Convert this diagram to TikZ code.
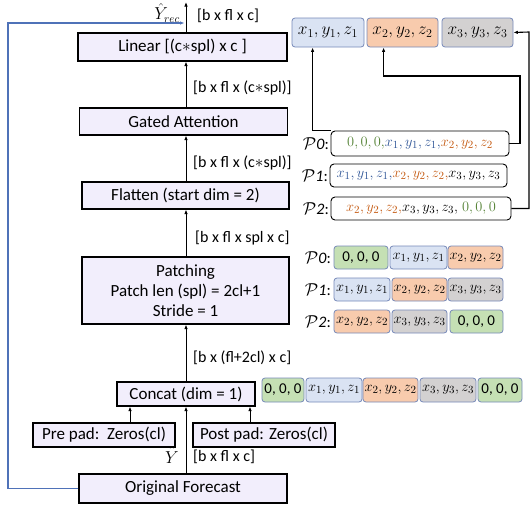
\documentclass[tikz,border=0pt]{standalone}
\usepackage[no-math]{fontspec}
\setmainfont{Carlito}
\usetikzlibrary{arrows.meta,calc}
\definecolor{boxfill}{HTML}{F2EEFC}
\definecolor{gfill}{HTML}{C5E0B4}
\definecolor{bfill}{HTML}{DAE3F3}
\definecolor{ofill}{HTML}{F8CBAD}
\definecolor{rfill}{HTML}{D3D1D1}
\definecolor{seqline}{HTML}{7689B8}
\definecolor{gtxt}{HTML}{548235}
\definecolor{btxt}{HTML}{2F5597}
\definecolor{otxt}{HTML}{C55A11}
\definecolor{fbline}{HTML}{4F72B8}
\begin{document}
\begin{tikzpicture}[x=1pt,y=-1pt,
  font=\fontsize{17}{20}\selectfont,
  opbox/.style={draw=black,line width=1.1pt,fill=boxfill,inner sep=0pt,align=center},
  seq/.style={draw=seqline,line width=0.8pt,rounded corners=3pt,inner sep=0pt,minimum height=23pt,font=\fontsize{15}{17}\selectfont},
  pbox/.style={draw=black,line width=0.9pt,rounded corners=4pt,fill=white,inner sep=0pt,font=\fontsize{15.5}{17}\selectfont},
  plab/.style={anchor=east,inner sep=0pt,font=\fontsize{16}{18}\selectfont},
  dimlab/.style={anchor=west,inner sep=0pt,font=\fontsize{16}{18}\selectfont},
  hatlab/.style={anchor=east,inner sep=0pt,font=\fontsize{16}{18}\selectfont},
  arr/.style={-{Latex[length=4.5pt,width=3.5pt]},line width=0.9pt},
  tarr/.style={-{Latex[length=4.5pt,width=3.5pt]},line width=1.1pt}]
\useasboundingbox (0,0) rectangle (530,506);

% main column
\node[opbox,minimum width=209pt,minimum height=28pt] (lin) at (182.5,47) {Linear [(c$*$spl) x c ]};
\node[opbox,minimum width=208pt,minimum height=27pt] (gat) at (183.5,121.5) {Gated Attention};
\node[opbox,minimum width=207pt,minimum height=27pt] (flat) at (185.5,195.5) {Flatten (start dim = 2)};
\node[opbox,minimum width=207pt,minimum height=67pt] (patch) at (185.5,290.5) {Patching\\[0pt]Patch len (spl) = 2cl+1\\[0pt]Stride = 1};
\node[opbox,minimum width=138pt,minimum height=24pt] (concat) at (186,394) {Concat (dim = 1)};
\node[opbox,minimum width=142pt,minimum height=24pt] (pre) at (104,435) {Pre pad:\ \ Zeros(cl)};
\node[opbox,minimum width=142pt,minimum height=24pt] (post) at (264,435) {Post pad: Zeros(cl)};
\node[opbox,minimum width=208pt,minimum height=29pt] (orig) at (183,488.5) {Original Forecast};

\coordinate (ax) at (186,0);
\coordinate (topend) at (186,2);
\draw[arr] (orig.north -| ax) -- (concat.south -| ax);
\draw[arr] (pre.north -| 130,0) -- (concat.south -| 130,0);
\draw[arr] (post.north -| 250,0) -- (concat.south -| 250,0);
\draw[arr] (concat.north -| ax) -- (patch.south -| ax);
\draw[arr] (patch.north -| ax) -- (flat.south -| ax);
\draw[arr] (flat.north -| ax) -- (gat.south -| ax);
\draw[arr] (gat.north -| ax) -- (lin.south -| ax);
\draw[arr] (lin.north -| ax) -- (topend);

% feedback
\coordinate (fb) at (8,23);
\draw[fbline,line width=1.1pt,-{Latex[length=4.5pt,width=3.5pt]},shorten >=1.5pt] (orig.west) -| (fb) -- (fb -| ax);

% dimension labels
\node[dimlab] (d0) at (197,16) {[b x fl x c]};
\node[hatlab] (yrec) at (180,13) {$\hat{Y}_{rec}$};
\node[dimlab] (d1) at (193,88) {[b x fl x (c$*$spl)]};
\node[dimlab] (d2) at (193,163) {[b x fl x (c$*$spl)]};
\node[dimlab] (d3) at (195,238) {[b x fl x spl x c]};
\node[dimlab] (d4) at (193,358) {[b x (fl+2cl) x c]};
\node[dimlab] (d5) at (193,457) {[b x fl x c]};
\node[hatlab] (yhat) at (179,455) {$\hat{Y}$};

% bottom sequence
\node[seq,fill=gfill,minimum width=42pt,minimum height=24pt] (s1) at (283,390) {0, 0, 0};
\node[seq,fill=bfill,minimum width=56pt,minimum height=24pt] (s2) at (334,390) {$x_1,y_1,z_1$};
\node[seq,fill=ofill,minimum width=55pt,minimum height=24pt] (s3) at (390.5,390) {$x_2,y_2,z_2$};
\node[seq,fill=rfill,minimum width=56pt,minimum height=24pt] (s4) at (448,390) {$x_3,y_3,z_3$};
\node[seq,fill=gfill,minimum width=44pt,minimum height=24pt] (s5) at (500,390) {0, 0, 0};

% patches
\node[plab] (l0) at (331,258) {$\mathcal{P}$\textit{0}:};
\node[seq,fill=gfill,minimum width=54pt] (a1) at (361,257.5) {0, 0, 0};
\node[seq,fill=bfill,minimum width=57pt] (a2) at (418.5,257.5) {$x_1,y_1,z_1$};
\node[seq,fill=ofill,minimum width=55pt] (a3) at (475.5,257.5) {$x_2,y_2,z_2$};

\node[plab] (l1) at (331,290) {$\mathcal{P}$\textit{1}:};
\node[seq,fill=bfill,minimum width=56pt] (b1) at (362,289.5) {$x_1,y_1,z_1$};
\node[seq,fill=ofill,minimum width=55pt] (b2) at (419.5,289.5) {$x_2,y_2,z_2$};
\node[seq,fill=rfill,minimum width=55pt] (b3) at (475.5,289.5) {$x_3,y_3,z_3$};

\node[plab] (l2) at (331,322) {$\mathcal{P}$\textit{2}:};
\node[seq,fill=ofill,minimum width=56pt] (c1) at (362,321.5) {$x_2,y_2,z_2$};
\node[seq,fill=rfill,minimum width=55pt] (c2) at (419.5,321.5) {$x_3,y_3,z_3$};
\node[seq,fill=gfill,minimum width=53pt] (c3) at (476.5,321.5) {0, 0, 0};

% flattened patches
\node[pbox,minimum width=178pt,minimum height=25pt] (p0) at (420,143.5)
  {\color{gtxt}$0,0,0,$\color{btxt}$x_1,y_1,z_1,$\color{otxt}$x_2,y_2,z_2$};
\node[pbox,minimum width=177pt,minimum height=23pt] (p1) at (418.5,175.5)
  {\color{btxt}$x_1,y_1,z_1,$\color{otxt}$x_2,y_2,z_2,$\color{black}$x_3,y_3,z_3$};
\node[pbox,minimum width=180pt,minimum height=23pt] (p2) at (421,208.5)
  {\color{otxt}$x_2,y_2,z_2,$\color{black}$x_3,y_3,z_3,$\color{gtxt}$\;0,0,0$};
\node[plab] (m0) at (329,144) {$\mathcal{P}$\textit{0}:};
\node[plab] (m1) at (328,176) {$\mathcal{P}$\textit{1}:};
\node[plab] (m2) at (329,209) {$\mathcal{P}$\textit{2}:};

% outputs
\node[seq,fill=bfill,minimum width=72pt,minimum height=29pt,font=\fontsize{17}{19}\selectfont] (t1) at (328,32.5) {$x_1,y_1,z_1$};
\node[seq,fill=ofill,minimum width=71pt,minimum height=29pt,font=\fontsize{17}{19}\selectfont] (t2) at (402.5,32.5) {$x_2,y_2,z_2$};
\node[seq,fill=rfill,minimum width=71pt,minimum height=29pt,font=\fontsize{17}{19}\selectfont] (t3) at (477.5,32.5) {$x_3,y_3,z_3$};

\coordinate (k1) at (520,76);
\coordinate (k2) at (529,32);
\draw[tarr] (p0.north west) -| ($(t1.south west)+(21,0)$);
\draw[tarr] (p0.east) -| (k1) -| ($(t2.south west)+(17,0)$);
\draw[tarr] (p2.east) -| (k2) -- (t3.east);
\end{tikzpicture}
\end{document}
